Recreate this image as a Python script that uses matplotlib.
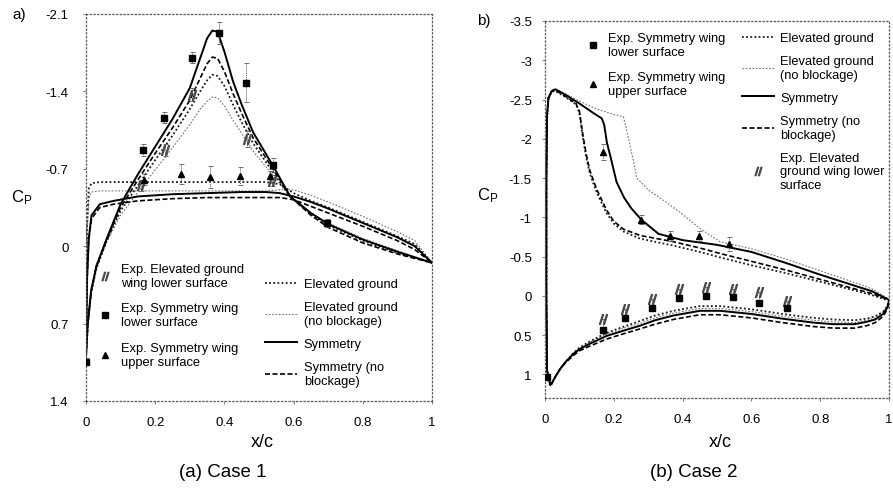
import matplotlib
matplotlib.use('Agg')
import matplotlib.pyplot as plt
from matplotlib.lines import Line2D

plt.rcParams['font.family'] = ['Liberation Sans', 'DejaVu Sans']
plt.rcParams['axes.unicode_minus'] = False

# ---------------- Panel a (Case 1) ----------------
a_x_low = [0, 0.005, 0.015, 0.03, 0.06, 0.1, 0.15, 0.2, 0.25, 0.3, 0.33, 0.35, 0.365, 0.38,
           0.4, 0.425, 0.45, 0.483, 0.54, 0.59, 0.65, 0.7, 0.8, 0.9, 1.0]
a_sym_low = [1.0, 0.7, 0.4, 0.18, -0.07, -0.38, -0.65, -0.9, -1.15, -1.43, -1.70, -1.88, -1.95, -1.94,
             -1.76, -1.49, -1.28, -1.03, -0.73, -0.45, -0.3, -0.2, -0.06, 0.05, 0.15]
a_symnb_low = [1.0, 0.7, 0.4, 0.18, -0.06, -0.35, -0.6, -0.84, -1.07, -1.32, -1.52, -1.65, -1.71, -1.70,
               -1.58, -1.38, -1.2, -0.98, -0.70, -0.45, -0.28, -0.17, -0.03, 0.07, 0.15]
a_elev_low = [1.0, 0.72, 0.42, 0.2, -0.05, -0.32, -0.55, -0.78, -1.0, -1.24, -1.40, -1.50, -1.55, -1.54,
              -1.45, -1.28, -1.12, -0.93, -0.67, -0.45, -0.29, -0.19, -0.05, 0.06, 0.15]
a_elevnb_low = [1.0, 0.72, 0.42, 0.2, -0.04, -0.28, -0.49, -0.69, -0.89, -1.1, -1.24, -1.31, -1.35, -1.34,
                -1.27, -1.14, -1.02, -0.86, -0.64, -0.45, -0.3, -0.21, -0.07, 0.04, 0.15]

a_x_up = [0, 0.003, 0.008, 0.016, 0.04, 0.08, 0.15, 0.25, 0.35, 0.45, 0.52, 0.56, 0.6, 0.65, 0.7,
          0.8, 0.9, 0.95, 1.0]
a_sym_up = [0.95, 0.3, -0.07, -0.28, -0.38, -0.41, -0.45, -0.47, -0.48, -0.49, -0.49, -0.48, -0.45,
            -0.4, -0.34, -0.21, -0.08, 0.0, 0.15]
a_symnb_up = [0.95, 0.3, -0.06, -0.25, -0.35, -0.38, -0.41, -0.43, -0.44, -0.44, -0.44, -0.44, -0.42,
              -0.36, -0.3, -0.18, -0.05, 0.03, 0.15]
a_elev_up = [0.95, -0.2, -0.52, -0.57, -0.58, -0.58, -0.58, -0.58, -0.58, -0.58, -0.58, -0.56, -0.48,
             -0.41, -0.35, -0.22, -0.09, -0.02, 0.15]
a_elevnb_up = [0.95, -0.1, -0.43, -0.49, -0.5, -0.5, -0.5, -0.5, -0.5, -0.5, -0.5, -0.51, -0.51,
               -0.46, -0.4, -0.27, -0.13, -0.05, 0.15]

a_sq_x = [0.0, 0.166, 0.226, 0.305, 0.384, 0.462, 0.54, 0.697]
a_sq_cp = [1.045, -0.87, -1.16, -1.705, -1.925, -1.48, -0.735, -0.21]
a_sq_err = [0.03, 0.05, 0.05, 0.05, 0.1, 0.18, 0.06, 0.04]
a_tri_x = [0.168, 0.275, 0.358, 0.445, 0.532]
a_tri_cp = [-0.60, -0.653, -0.623, -0.632, -0.632]
a_tri_err = [0.05, 0.09, 0.1, 0.08, 0.05]
a_hat_x = [0.16, 0.228, 0.305, 0.464, 0.537]
a_hat_cp = [-0.55, -0.87, -1.37, -0.97, -0.59]
a_hat_err = [0.05, 0.05, 0.06, 0.07, 0.05]

a_yticks = [-2.1, -1.4, -0.7, 0, 0.7, 1.4]
a_yticklabels = ['-2.1', '-1.4', '-0.7', '0', '0.7', '1.4']

# ---------------- Panel b (Case 2) ----------------
b_x_low = [0.015, 0.019, 0.03, 0.044, 0.06, 0.082, 0.1, 0.13, 0.179, 0.23, 0.276, 0.32, 0.373, 0.45,
           0.509, 0.6, 0.69, 0.78, 0.838, 0.9, 0.935, 0.96, 0.983, 0.995, 1.0]
b_sym_low = [1.13, 1.12, 1.03, 0.93, 0.84, 0.74, 0.68, 0.61, 0.51, 0.44, 0.38, 0.31, 0.25, 0.19,
             0.19, 0.23, 0.29, 0.34, 0.36, 0.36, 0.33, 0.3, 0.23, 0.15, 0.06]
b_symnb_low = [1.13, 1.12, 1.03, 0.93, 0.85, 0.76, 0.70, 0.64, 0.55, 0.48, 0.42, 0.36, 0.30, 0.24,
               0.24, 0.28, 0.34, 0.39, 0.41, 0.41, 0.38, 0.34, 0.26, 0.17, 0.06]
b_elev_low = [1.13, 1.12, 1.03, 0.93, 0.84, 0.73, 0.66, 0.58, 0.47, 0.39, 0.32, 0.25, 0.19, 0.13,
              0.13, 0.17, 0.23, 0.28, 0.30, 0.31, 0.29, 0.26, 0.2, 0.13, 0.06]
b_elevnb_low = [1.13, 1.12, 1.03, 0.93, 0.84, 0.73, 0.67, 0.59, 0.49, 0.41, 0.35, 0.28, 0.22, 0.16,
                0.16, 0.2, 0.26, 0.31, 0.33, 0.34, 0.31, 0.28, 0.21, 0.14, 0.06]

b_x_up_sym = [0.015, 0.006, 0.004, 0.004, 0.006, 0.01, 0.02, 0.03, 0.06, 0.1, 0.14, 0.165, 0.172, 0.18,
              0.19, 0.208, 0.23, 0.25, 0.28, 0.33, 0.4, 0.5, 0.6, 0.7, 0.8, 0.9, 0.95, 1.0]
b_sym_up = [1.13, 0.95, 0.0, -1.5, -2.3, -2.52, -2.61, -2.63, -2.56, -2.45, -2.33, -2.26, -2.18, -1.95,
            -1.78, -1.45, -1.25, -1.12, -0.97, -0.79, -0.71, -0.65, -0.56, -0.42, -0.27, -0.13, -0.06, 0.05]
b_x_up_early = [0.015, 0.006, 0.004, 0.004, 0.006, 0.01, 0.02, 0.03, 0.06, 0.09, 0.1, 0.11, 0.12, 0.13,
                0.15, 0.178, 0.2, 0.228, 0.276, 0.373, 0.45, 0.509, 0.6, 0.7, 0.8, 0.9, 0.95, 1.0]
b_symnb_up = [1.13, 0.95, 0.0, -1.5, -2.3, -2.52, -2.61, -2.62, -2.54, -2.45, -2.35, -2.05, -1.8, -1.6,
              -1.36, -1.1, -0.95, -0.85, -0.77, -0.69, -0.61, -0.54, -0.44, -0.33, -0.21, -0.09, -0.03, 0.05]
b_elev_up = [1.13, 0.95, 0.0, -1.5, -2.3, -2.52, -2.6, -2.61, -2.53, -2.44, -2.33, -2.02, -1.76, -1.56,
             -1.32, -1.06, -0.92, -0.82, -0.73, -0.64, -0.56, -0.49, -0.39, -0.29, -0.18, -0.07, -0.01, 0.06]
b_x_up_late = [0.015, 0.006, 0.004, 0.004, 0.006, 0.01, 0.02, 0.03, 0.06, 0.1, 0.15, 0.2, 0.228, 0.237,
               0.256, 0.267, 0.3, 0.35, 0.392, 0.45, 0.509, 0.6, 0.7, 0.8, 0.9, 0.95, 1.0]
b_elevnb_up = [1.13, 0.95, 0.0, -1.5, -2.3, -2.53, -2.62, -2.64, -2.57, -2.48, -2.38, -2.31, -2.28, -2.12,
               -1.74, -1.5, -1.35, -1.2, -1.065, -0.86, -0.69, -0.6, -0.47, -0.32, -0.17, -0.09, 0.04]

b_sq_x = [0.005, 0.17, 0.233, 0.31, 0.389, 0.468, 0.546, 0.623, 0.703]
b_sq_cp = [1.035, 0.43, 0.28, 0.157, 0.03, 0.005, 0.017, 0.09, 0.157]
b_sq_err = [0.03, 0.03, 0.03, 0.03, 0.03, 0.03, 0.03, 0.03, 0.03]
b_tri_x = [0.17, 0.278, 0.363, 0.449, 0.536]
b_tri_cp = [-1.83, -0.97, -0.76, -0.76, -0.66]
b_tri_err = [0.1, 0.06, 0.06, 0.06, 0.09]
b_hat_x = [0.17, 0.233, 0.31, 0.389, 0.468, 0.546, 0.623, 0.703]
b_hat_cp = [0.29, 0.166, 0.04, -0.09, -0.11, -0.09, -0.047, 0.06]
b_hat_err = [0.12, 0.12, 0.12, 0.12, 0.12, 0.12, 0.12, 0.12]

b_yticks = [-3.5, -3, -2.5, -2, -1.5, -1, -0.5, 0, 0.5, 1]
b_yticklabels = ['-3.5', '-3', '-2.5', '-2', '-1.5', '-1', '-0.5', '0', '0.5', '1']

x_ticks = [0, 0.2, 0.4, 0.6, 0.8, 1]
x_ticklabels = ['0', '0.2', '0.4', '0.6', '0.8', '1']

# ---------------- styles ----------------
STY = {
    'elev': dict(color='0.1', ls=(0, (1, 1.3)), lw=1.3),
    'elevnb': dict(color='0.45', ls=(0, (1.5, 1.5)), lw=0.8),
    'sym': dict(color='black', ls='-', lw=1.4),
    'symnb': dict(color='black', ls=(0, (3, 1.5)), lw=1.2),
}
HATCH = r'$//$'

W, H = 893, 489
def fx(px):
    return px / W
def fy(py):
    return 1 - py / H

fig = plt.figure(figsize=(8.93, 4.89), dpi=100)
axA = fig.add_axes([fx(86), fy(402), fx(432) - fx(86), fy(15) - fy(402)])
axB = fig.add_axes([fx(545), fy(399), fx(889) - fx(545), fy(22) - fy(399)])


def errpts(ax, x, y, e, marker, ms, color, uplims=False):
    if uplims:
        yerr = [[0] * len(e), e]
    else:
        yerr = e
    cont = ax.errorbar(x, y, yerr=yerr, fmt='none', ecolor='0.35',
                       elinewidth=0.7, capsize=1.8, capthick=0.6, zorder=4)
    for bl in cont[2]:
        bl.set_linestyle((0, (1, 1)))
    ax.plot(x, y, ls='none', marker=marker, ms=ms, color=color, zorder=5)


def style_axes(ax, ylim, yticks, yticklabels, ypad):
    ax.set_xlim(0, 1)
    ax.set_ylim(ylim)
    ax.set_xticks(x_ticks)
    ax.set_xticklabels(x_ticklabels)
    ax.set_yticks(yticks)
    ax.set_yticklabels(yticklabels)
    ax.tick_params(axis='both', labelsize=9.5, length=2.5, width=0.6, color='0.4')
    ax.tick_params(axis='x', pad=8)
    ax.tick_params(axis='y', pad=ypad)
    for sp in ax.spines.values():
        sp.set_linestyle((0, (1, 2)))
        sp.set_linewidth(0.9)
        sp.set_color('0.35')


# ---- panel a drawing ----
for key, ylow, yup in [('elevnb', a_elevnb_low, a_elevnb_up), ('elev', a_elev_low, a_elev_up),
                       ('symnb', a_symnb_low, a_symnb_up), ('sym', a_sym_low, a_sym_up)]:
    axA.plot(a_x_low, ylow, **STY[key])
    axA.plot(a_x_up, yup, **STY[key])
errpts(axA, a_hat_x, a_hat_cp, a_hat_err, HATCH, 7, '0.3')
errpts(axA, a_sq_x, a_sq_cp, a_sq_err, 's', 4.5, 'black')
errpts(axA, a_tri_x, a_tri_cp, a_tri_err, '^', 4.5, 'black')
style_axes(axA, (1.4, -2.1), a_yticks, a_yticklabels, 10)

# ---- panel b drawing ----
axB.plot(b_x_low, b_elevnb_low, **STY['elevnb'])
axB.plot(b_x_up_late, b_elevnb_up, **STY['elevnb'])
axB.plot(b_x_low, b_elev_low, **STY['elev'])
axB.plot(b_x_up_early, b_elev_up, **STY['elev'])
axB.plot(b_x_low, b_symnb_low, **STY['symnb'])
axB.plot(b_x_up_early, b_symnb_up, **STY['symnb'])
axB.plot(b_x_low, b_sym_low, **STY['sym'])
axB.plot(b_x_up_sym, b_sym_up, **STY['sym'])
errpts(axB, b_hat_x, b_hat_cp, b_hat_err, HATCH, 7, '0.3', uplims=True)
errpts(axB, b_sq_x, b_sq_cp, b_sq_err, 's', 4.5, 'black')
errpts(axB, b_tri_x, b_tri_cp, b_tri_err, '^', 4.5, 'black')
style_axes(axB, (1.3, -3.5), b_yticks, b_yticklabels, 7)

# ---- legends ----
h_hat = Line2D([], [], marker=HATCH, ms=6, color='0.3', ls='none')
h_sq = Line2D([], [], marker='s', ms=4, color='black', ls='none')
h_tri = Line2D([], [], marker='^', ms=4, color='black', ls='none')
h_elev = Line2D([], [], **STY['elev'])
h_elevnb = Line2D([], [], **STY['elevnb'])
h_sym = Line2D([], [], **STY['sym'])
h_symnb = Line2D([], [], **STY['symnb'])

leg_kw = dict(frameon=False, fontsize=9.3, borderpad=0, borderaxespad=0)

lA1 = fig.legend([h_hat, h_sq, h_tri],
                 ['Exp. Elevated ground\nwing lower surface', 'Exp. Symmetry wing\nlower surface',
                  'Exp. Symmetry wing\nupper surface'],
                 loc='upper left', bbox_to_anchor=(fx(99), fy(264)), handlelength=0.9,
                 handletextpad=0.8, labelspacing=1.05, **leg_kw)
lA2 = fig.legend([h_elev, h_elevnb, h_sym, h_symnb],
                 ['Elevated ground', 'Elevated ground\n(no blockage)', 'Symmetry', 'Symmetry (no\nblockage)'],
                 loc='upper left', bbox_to_anchor=(fx(265), fy(279)), handlelength=2.5,
                 handletextpad=0.5, labelspacing=0.85, **leg_kw)
lB1 = fig.legend([h_sq, h_tri],
                 ['Exp. Symmetry wing\nlower surface', 'Exp. Symmetry wing\nupper surface'],
                 loc='upper left', bbox_to_anchor=(fx(587), fy(33)), handlelength=0.9,
                 handletextpad=0.7, labelspacing=1.05, **leg_kw)
lB2 = fig.legend([h_elev, h_elevnb, h_sym, h_symnb, h_hat],
                 ['Elevated ground', 'Elevated ground\n(no blockage)', 'Symmetry', 'Symmetry (no\nblockage)',
                  'Exp. Elevated\nground wing lower\nsurface'],
                 loc='upper left', bbox_to_anchor=(fx(742), fy(33)), handlelength=2.5,
                 handletextpad=0.45, labelspacing=0.85, **leg_kw)

# ---- labels ----
for cx, capx, cap in [(262, 223, '(a) Case 1'), (720, 694, '(b) Case 2')]:
    fig.text(fx(cx), fy(443), 'x/c', ha='center', va='center', fontsize=13)
    fig.text(fx(capx), fy(473), cap, ha='center', va='center', fontsize=13.5)
fig.text(fx(12), fy(15), 'a)', ha='left', va='center', fontsize=11)
fig.text(fx(477), fy(21), 'b)', ha='left', va='center', fontsize=11)
fig.text(fx(22), fy(198), r'$\mathregular{C_P}$', ha='center', va='center', fontsize=12)
fig.text(fx(488), fy(196), r'$\mathregular{C_P}$', ha='center', va='center', fontsize=12)

fig.savefig('out.png', dpi=100)
